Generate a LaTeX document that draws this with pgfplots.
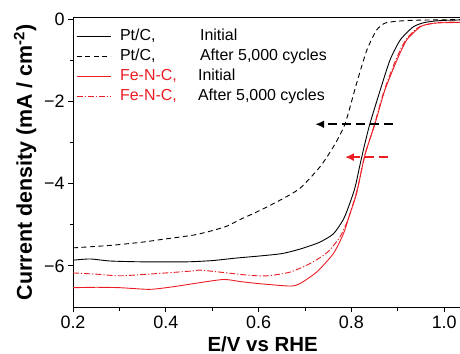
\documentclass[border=0pt]{standalone}
\usepackage{pgfplots}
\pgfplotsset{compat=1.18}
\usepackage{fontspec}
\setmainfont{Liberation Sans}
\usetikzlibrary{arrows.meta}
\definecolor{fered}{RGB}{235,28,36}
\begin{document}
\begin{tikzpicture}
\begin{axis}[
 name=ax,
 scale only axis,
 width=387bp, height=289.5bp,
 xmin=0.2, xmax=1.034, ymin=-7, ymax=0.05,
 axis line style={line width=1bp},
 tick align=outside, xtick pos=bottom, ytick pos=left,
 xtick={0.2,0.4,0.6,0.8,1.0}, xticklabels={0.2,0.4,0.6,0.8,1.0},
 ytick={-6,-4,-2,0}, yticklabels={−6,−4,−2,0},
 minor xtick={0.3,0.5,0.7,0.9}, minor ytick={-5,-3,-1},
 major tick length=5bp, minor tick length=3.5bp,
 every tick/.style={line width=1bp, black},
 tick label style={font=\fontsize{18}{18}\selectfont},
 xlabel={E/V vs RHE},
 ylabel={Current density (mA / cm\textsuperscript{-2})},
 label style={font=\fontsize{20.5}{20.5}\selectfont\bfseries},
 xlabel style={at={(axis description cs:0.49,-0.128)}, anchor=center},
 ylabel style={at={(axis description cs:-0.124,0.50)}, anchor=center, font=\fontsize{21.5}{21.5}\selectfont\bfseries},
 legend style={at={(axis description cs:0,1)}, anchor=north west, xshift=3bp, yshift=-11bp,
   draw=none, fill=none, font=\fontsize{16}{16}\selectfont, inner sep=0pt,
   row sep=5.5bp, column sep=9bp,
   nodes={inner sep=0pt, text height=11.5bp, text depth=3bp}},
 legend cell align=left,
 legend image code/.code={\draw[#1] (0bp,0bp) -- (34bp,0bp);},
]
% Pt/C initial
\addplot[black, line width=0.9bp, smooth, tension=0.4] coordinates {
(0.20,-5.86) (0.237,-5.83) (0.28,-5.88) (0.35,-5.90) (0.445,-5.90) (0.50,-5.87)
(0.55,-5.81) (0.60,-5.76) (0.65,-5.70) (0.689,-5.59) (0.73,-5.43) (0.761,-5.22)
(0.783,-4.86) (0.797,-4.46) (0.808,-4.08) (0.819,-3.51) (0.829,-3.02) (0.840,-2.53)
(0.862,-1.72) (0.883,-0.99) (0.905,-0.50) (0.933,-0.18) (0.955,-0.08) (0.976,-0.04)
(1.00,-0.02) (1.034,-0.01)};
\addlegendentry{\makebox[80bp][l]{Pt/C,}Initial}
% Pt/C after
\addplot[black, line width=0.9bp, smooth, tension=0.4, dash pattern=on 5bp off 3.5bp] coordinates {
(0.20,-5.56) (0.28,-5.50) (0.35,-5.42) (0.388,-5.36) (0.459,-5.25) (0.50,-5.14)
(0.532,-5.03) (0.56,-4.87) (0.597,-4.68) (0.646,-4.40) (0.689,-4.11) (0.732,-3.59)
(0.761,-3.10) (0.786,-2.55) (0.811,-1.56) (0.833,-0.75) (0.854,-0.26)
(0.870,-0.10) (0.883,-0.06) (0.926,-0.02) (1.034,0.0)};
\addlegendentry{\makebox[80bp][l]{Pt/C,}After 5,000 cycles}
% Fe-N-C initial
\addplot[fered, line width=0.9bp, smooth, tension=0.4] coordinates {
(0.20,-6.53) (0.25,-6.52) (0.302,-6.53) (0.366,-6.57) (0.42,-6.50) (0.46,-6.43)
(0.524,-6.33) (0.56,-6.38) (0.60,-6.43) (0.668,-6.49) (0.689,-6.43) (0.725,-6.15)
(0.761,-5.70) (0.783,-5.21) (0.797,-4.72) (0.811,-4.24) (0.829,-3.30) (0.851,-2.53)
(0.872,-1.72) (0.898,-0.99) (0.919,-0.50) (0.948,-0.18) (0.97,-0.10)
(0.991,-0.08) (1.034,-0.07)};
\addlegendentry{\makebox[78bp][l]{\color{fered}Fe-N-C,}Initial}
% Fe-N-C after
\addplot[fered, line width=0.9bp, smooth, tension=0.4, dash pattern=on 6bp off 2bp on 1.2bp off 2bp] coordinates {
(0.20,-6.17) (0.25,-6.20) (0.302,-6.24) (0.388,-6.18) (0.46,-6.12) (0.474,-6.10)
(0.532,-6.17) (0.582,-6.23) (0.62,-6.24) (0.668,-6.15) (0.711,-5.94) (0.747,-5.68)
(0.775,-5.30) (0.795,-4.80) (0.813,-4.12) (0.829,-3.30) (0.848,-2.62)
(0.87,-1.75) (0.895,-1.00) (0.917,-0.50) (0.946,-0.18) (0.99,-0.07) (1.034,-0.06)};
\addlegendentry{\makebox[78bp][l]{\color{fered}Fe-N-C,}After 5,000 cycles}
% arrows
\draw[black, line width=2bp, dash pattern=on 9bp off 5bp, -{Latex[length=9bp,width=8bp]}]
  (axis cs:0.89,-2.55) -- (axis cs:0.722,-2.55);
\draw[fered, line width=2bp, dash pattern=on 9bp off 5bp, -{Latex[length=9bp,width=8bp]}]
  (axis cs:0.878,-3.35) -- (axis cs:0.786,-3.35);
\end{axis}
\pgfresetboundingbox
\path[use as bounding box] ([xshift=-73bp,yshift=-47bp]ax.south west) rectangle ++(460bp,354bp);
\end{tikzpicture}
\end{document}
